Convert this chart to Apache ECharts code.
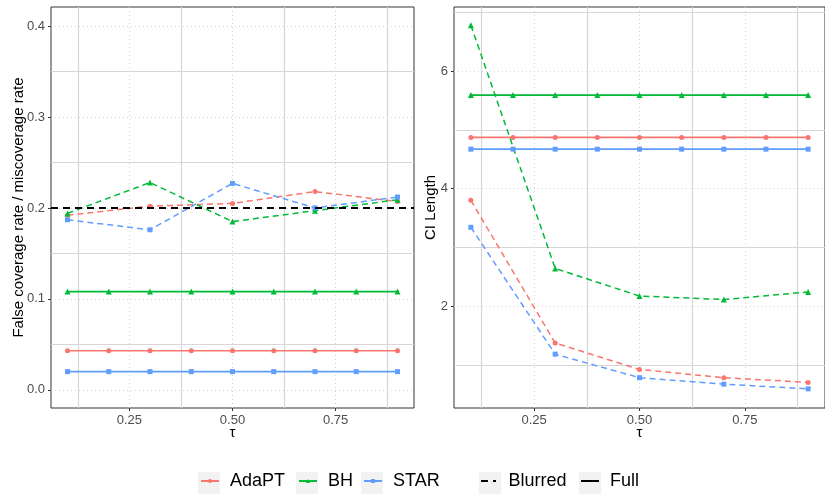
<!DOCTYPE html>
<html>
<head>
<meta charset="utf-8">
<script src="https://cdn.jsdelivr.net/npm/echarts@6/dist/echarts.min.js"></script>
<style>
  html, body { margin: 0; padding: 0; background: #fff; }
  #main { width: 825px; height: 495px; }
</style>
</head>
<body>
<div id="main"></div>
<script>
// tau values
const tauFull = [0.1, 0.2, 0.3, 0.4, 0.5, 0.6, 0.7, 0.8, 0.9];
const tauBlur = [0.1, 0.3, 0.5, 0.7, 0.9];

// left panel: false coverage rate / miscoverage rate
const fcrFullAdaPT = [0.043, 0.043, 0.043, 0.043, 0.043, 0.043, 0.043, 0.043, 0.043];
const fcrFullBH = [0.108, 0.108, 0.108, 0.108, 0.108, 0.108, 0.108, 0.108, 0.108];
const fcrFullSTAR = [0.020, 0.020, 0.020, 0.020, 0.020, 0.020, 0.020, 0.020, 0.020];
const fcrBlurAdaPT = [0.192, 0.202, 0.205, 0.218, 0.207];
const fcrBlurBH = [0.194, 0.228, 0.185, 0.197, 0.209];
const fcrBlurSTAR = [0.187, 0.176, 0.227, 0.200, 0.212];
const targetLevel = 0.2;

// right panel: CI length
const ciFullAdaPT = [4.87, 4.87, 4.87, 4.87, 4.87, 4.87, 4.87, 4.87, 4.87];
const ciFullBH = [5.59, 5.59, 5.59, 5.59, 5.59, 5.59, 5.59, 5.59, 5.59];
const ciFullSTAR = [4.67, 4.67, 4.67, 4.67, 4.67, 4.67, 4.67, 4.67, 4.67];
const ciBlurAdaPT = [3.80, 1.37, 0.92, 0.78, 0.70];
const ciBlurBH = [6.78, 2.64, 2.17, 2.11, 2.24];
const ciBlurSTAR = [3.34, 1.18, 0.78, 0.67, 0.59];

// breaks
const xBreaks = [0.25, 0.5, 0.75];
const xMinorBreaks = [0.125, 0.375, 0.625, 0.875];
const fcrBreaks = [0, 0.1, 0.2, 0.3, 0.4];
const fcrMinorBreaks = [0.05, 0.15, 0.25, 0.35];
const ciBreaks = [2, 4, 6];
const ciMinorBreaks = [1, 3, 5, 7];

const methods = ["AdaPT", "BH", "STAR"];
const lineTypes = ["Blurred", "Full"];
const colors = { AdaPT: "#F8766D", BH: "#00BA38", STAR: "#619CFF" };
const symbols = { AdaPT: "circle", BH: "triangle", STAR: "rect" };
const symbolSizes = { AdaPT: 5, BH: 6, STAR: 5 };

const fullData = [
  { AdaPT: fcrFullAdaPT, BH: fcrFullBH, STAR: fcrFullSTAR },
  { AdaPT: ciFullAdaPT, BH: ciFullBH, STAR: ciFullSTAR }
];
const blurData = [
  { AdaPT: fcrBlurAdaPT, BH: fcrBlurBH, STAR: fcrBlurSTAR },
  { AdaPT: ciBlurAdaPT, BH: ciBlurBH, STAR: ciBlurSTAR }
];

const FONT = "Liberation Sans, Arial, sans-serif";
const zip = (xs, ys) => xs.map((x, i) => [x, ys[i]]);

var myChart = echarts.init(document.getElementById("main"));

const dotted = { show: true, lineStyle: { color: "#d4d4d4", type: [1, 3], width: 1 } };
const solidGrid = { show: true, lineStyle: { color: "#d6d6d6", width: 1.2 } };
const labelStyle = { color: "#4D4D4D", fontSize: 13, fontFamily: FONT };
const nameStyle = { color: "#000", fontSize: 15, fontFamily: FONT };

// one labelled axis (dotted grid) + one hidden axis on the same range (solid minor grid)
function axisPair(gridIndex, min, max, breaks, minor, fmt, name, gap) {
  return [
    {
      type: "value", gridIndex: gridIndex, min: min, max: max,
      name: name, nameLocation: "middle", nameGap: gap, nameMoveOverlap: false,
      nameTextStyle: nameStyle,
      axisLine: { show: false, onZero: false },
      axisTick: { show: true, length: 3, customValues: breaks, lineStyle: { color: "#333" } },
      axisLabel: Object.assign({ margin: 6, customValues: breaks, formatter: fmt }, labelStyle),
      splitLine: dotted
    },
    {
      type: "value", gridIndex: gridIndex, min: min, max: max,
      axisLine: { show: false, onZero: false },
      axisTick: { show: false, customValues: minor },
      axisLabel: { show: false, customValues: minor },
      splitLine: solidGrid
    }
  ];
}

const series = [];
[0, 1].forEach((p) => {
  methods.forEach((m) => {
    series.push({
      name: m, type: "line", xAxisIndex: p * 2, yAxisIndex: p * 2,
      data: zip(tauFull, fullData[p][m]),
      color: colors[m], symbol: symbols[m], symbolSize: symbolSizes[m],
      showSymbol: true, lineStyle: { width: 1.6 }, z: 3
    });
  });
});
[0, 1].forEach((p) => {
  methods.forEach((m) => {
    const s = {
      name: m, type: "line", xAxisIndex: p * 2, yAxisIndex: p * 2,
      data: zip(tauBlur, blurData[p][m]),
      color: colors[m], symbol: symbols[m], symbolSize: symbolSizes[m],
      showSymbol: true, lineStyle: { width: 1.5, type: [6, 4] }, z: 3
    };
    if (p === 0 && m === "AdaPT") {
      s.markLine = {
        silent: true, symbol: "none", label: { show: false },
        lineStyle: { color: "#000", width: 2, type: [7, 5] },
        data: [{ yAxis: targetLevel }], z: 5
      };
    }
    series.push(s);
  });
});
// line-type keys for the legend
series.push({ name: "Blurred", type: "line", data: [], color: "#000", symbol: "none" });
series.push({ name: "Full", type: "line", data: [], color: "#000", symbol: "none" });

// legend: one small legend per key so each key sits where ggplot put it
const keyLeft = { AdaPT: 198, BH: 296, STAR: 361, Blurred: 479, Full: 579 };
const keyIcons = {
  Blurred: "path://M0,0h7v2h-7z M12,0h3v2h-3z",
  Full: "path://M0,0h18v2h-18z"
};
const legends = methods.concat(lineTypes).map((name) => ({
  data: [keyIcons[name] ? { name: name, icon: keyIcons[name] } : name],
  left: keyLeft[name] + 2, top: 472, padding: 0,
  itemWidth: 18, itemHeight: keyIcons[name] ? 2 : 5,
  textStyle: { fontSize: 18, color: "#000", fontFamily: FONT, padding: [0, 0, 0, 6] }
}));
const keyBoxes = methods.concat(lineTypes).map((name) => ({
  type: "rect", left: keyLeft[name], top: 472, shape: { width: 22, height: 22 },
  style: { fill: "#F2F2F2" }, z: -1, silent: true
}));

myChart.setOption({
  animation: false,
  textStyle: { fontFamily: FONT },
  grid: [
    { left: 51, top: 7, width: 363, height: 401, show: true, borderColor: "#333", borderWidth: 1, backgroundColor: "transparent" },
    { left: 454, top: 7, width: 371, height: 401, show: true, borderColor: "#333", borderWidth: 1, backgroundColor: "transparent" }
  ],
  xAxis: axisPair(0, 0.06, 0.94, xBreaks, xMinorBreaks, (v) => v.toFixed(2), "τ", 17)
    .concat(axisPair(1, 0.06, 0.94, xBreaks, xMinorBreaks, (v) => v.toFixed(2), "τ", 17)),
  yAxis: axisPair(0, -0.02, 0.421, fcrBreaks, fcrMinorBreaks, (v) => v.toFixed(1),
      "False coverage rate / miscoverage rate", 25)
    .concat(axisPair(1, 0.264, 7.09, ciBreaks, ciMinorBreaks, (v) => v.toFixed(0), "CI Length", 16)),
  legend: legends,
  graphic: keyBoxes,
  series: series
});
</script>
</body>
</html>
